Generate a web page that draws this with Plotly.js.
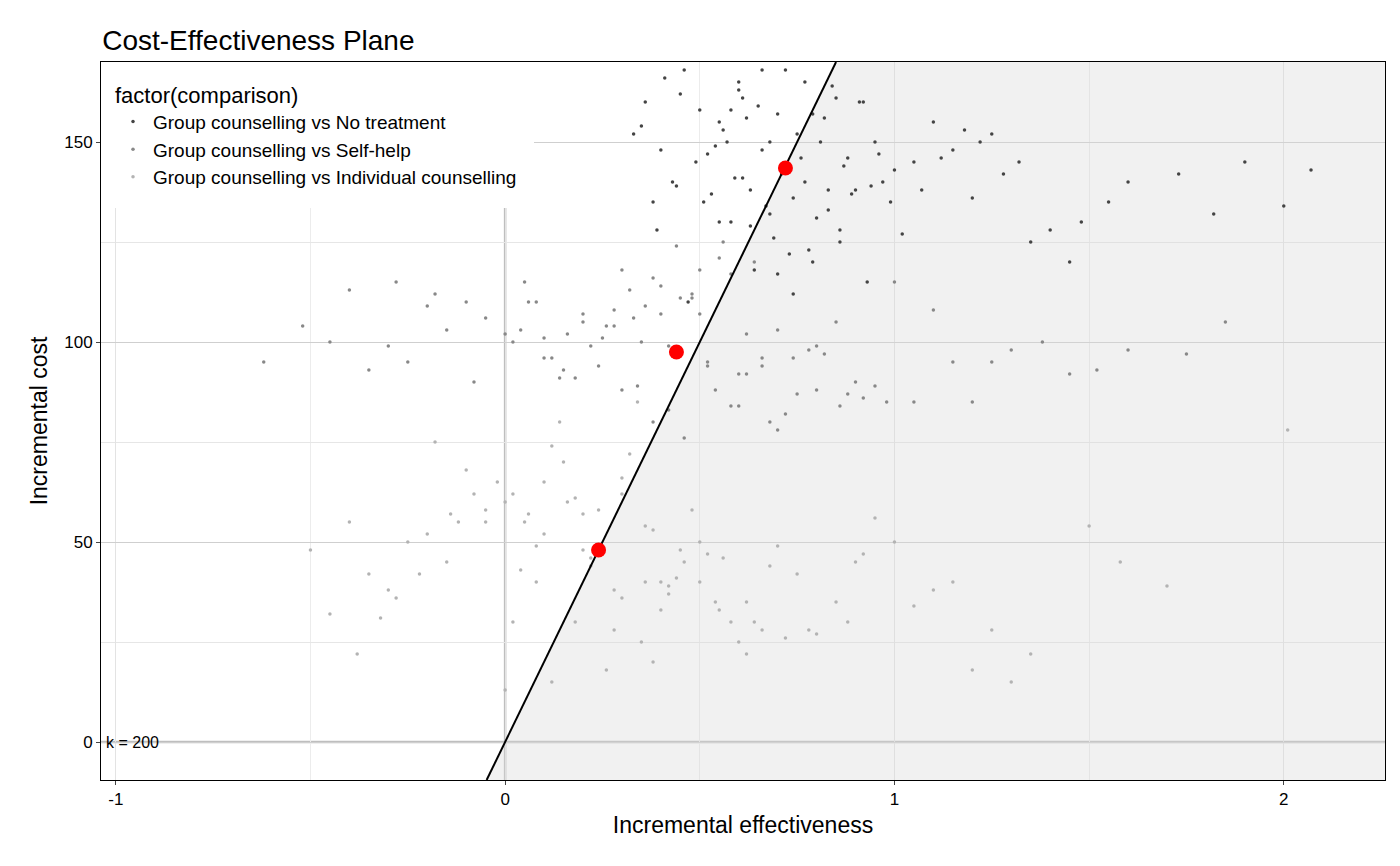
<!DOCTYPE html>
<html>
<head>
<meta charset="utf-8">
<script src="https://cdn.plot.ly/plotly-3.0.1.min.js"></script>
<style>body{margin:0;background:#fff}#plot{width:1400px;height:866px}</style>
</head>
<body>
<div id="plot"></div>
<script>
// Valores (estimados)
const k = 200;
const xRange = [-1.038, 2.26];
const yRange = [-9.5, 170];

const ntX = [0.72,0.55,0.81,0.63,0.92,0.40,0.68,0.77,1.05,0.50,0.86,0.33,0.61,0.74,1.22,0.45,0.58,0.97,0.70,0.88,0.38,1.35,0.66,0.52,0.79,1.10,0.43,0.83,0.60,0.95,1.48,0.71,0.36,0.64,0.90,1.02,0.56,0.76,0.47,1.15,0.85,0.69,0.53,1.28,0.62,0.99,0.41,0.73,0.87,1.60,0.57,0.80,0.65,1.07,0.49,0.93,0.75,1.40,0.59,0.84,0.67,1.90,0.44,0.78,1.18,0.54,0.89,0.72,1.73,0.61,0.96,0.39,0.82,2.07,0.70,1.25,0.51,0.91,0.63,1.55,0.77,0.46,1.00,0.68,1.82,0.58,0.86,1.32,0.74,0.35,0.94,0.66,1.45,0.79,0.55,1.12,0.83,2.00,0.60,1.20];
const ntY = [143,155,150,138,160,148,132,165,145,158,128,152,141,136,150,162,130,140,157,146,135,125,168,147,120,155,140,133,163,150,130,142,160,118,138,127,153,146,110,148,161,126,137,142,156,135,166,122,144,140,150,131,159,138,145,115,152,128,141,164,134,145,139,123,153,149,137,168,142,161,147,128,156,143,117,152,135,160,129,135,140,168,143,150,132,158,125,145,112,154,139,148,120,157,130,146,138,134,165,136];

const shX = [0.44,0.20,0.62,-0.10,0.35,0.80,0.05,0.52,0.28,1.05,-0.30,0.48,0.15,0.70,0.38,-0.05,0.90,0.25,0.58,0.10,1.30,0.42,-0.20,0.66,0.32,0.00,0.75,0.55,-0.45,0.18,0.85,0.46,1.15,0.08,0.60,0.30,-0.62,0.50,0.22,0.95,0.40,-0.15,0.68,0.12,1.45,0.36,0.78,-0.35,0.54,0.26,1.00,0.02,0.64,0.45,-0.25,0.88,0.16,0.72,1.60,0.33,-0.08,0.56,0.82,0.24,1.20,0.48,-0.40,0.60,0.10,0.92,0.38,1.75,0.28,0.70,-0.52,0.52,0.14,1.10,0.44,0.04,0.80,0.34,1.38,0.58,-0.18,0.66,0.20,0.98,0.42,1.52,0.06,0.74,0.30,1.25,0.50,-0.28,0.86,0.62,1.85,0.40];
const shY = [97,105,92,110,100,88,115,95,108,85,99,112,93,103,80,106,90,101,117,96,98,83,109,94,113,102,87,121,100,91,105,76,95,110,84,118,95,107,99,89,114,103,80,96,92,109,98,93,88,104,115,100,120,111,95,87,102,82,98,106,90,125,97,94,85,111,113,92,101,86,116,97,104,78,104,94,91,108,124,103,99,89,100,84,112,96,107,85,99,93,110,96,88,95,118,115,84,102,105,107];

const indX = [0.24,0.05,0.40,-0.15,0.30,0.62,-0.05,0.18,0.50,-0.30,0.10,0.75,0.35,-0.20,0.00,0.55,0.15,0.90,-0.40,0.28,0.45,0.08,1.10,-0.10,0.38,0.20,0.68,-0.25,0.02,0.85,0.32,0.12,1.25,-0.35,0.48,0.22,0.60,-0.08,0.42,1.50,0.14,-0.45,0.70,0.26,0.04,0.95,0.36,-0.18,0.58,0.10,1.35,0.30,-0.28,0.80,0.46,0.00,0.16,1.05,0.52,-0.12,0.34,0.66,1.70,0.20,-0.38,0.44,0.06,0.88,0.28,1.20,-0.02,0.56,0.38,-0.22,0.72,0.12,2.01,0.40,0.24,1.00,-0.32,0.62,0.08,0.50,1.58,0.18,-0.05,0.78,0.30,1.15,0.42,-0.14,0.64,0.22,1.30,0.02,0.54,0.92,-0.50,0.36];
const indY = [48,55,40,45,62,35,58,30,50,38,65,42,25,52,60,33,70,45,55,28,48,40,38,68,20,57,44,50,30,35,72,15,28,42,58,46,25,62,37,54,80,32,49,18,43,56,40,75,30,52,22,66,36,27,45,13,60,34,47,55,85,28,39,48,22,41,57,30,38,18,65,46,53,42,26,74,78,33,58,50,31,22,49,40,45,61,55,28,36,40,39,57,30,44,15,62,35,47,48,54];

const meanX = [0.72, 0.44, 0.24];
const meanY = [143.5, 97.5, 48];

const seriesNames = ['Group counselling vs No treatment', 'Group counselling vs Self-help', 'Group counselling vs Individual counselling'];
const seriesColors = ['#444444', '#888888', '#b3b3b3'];

// Region bajo la recta de disposicion a pagar
const xLo = yRange[0] / k, xHi = yRange[1] / k;
const region = {
    x: [xLo, xHi, xRange[1], xRange[1], xLo],
    y: [yRange[0], yRange[1], yRange[1], yRange[0], yRange[0]],
    type: 'scatter', mode: 'lines', fill: 'toself',
    fillcolor: 'rgba(215,215,215,0.35)', line: { width: 0 }, hoverinfo: 'skip', showlegend: false
};

const pts = [[ntX, ntY], [shX, shY], [indX, indY]].map((d, i) => ({
    x: d[0], y: d[1], type: 'scatter', mode: 'markers', name: seriesNames[i],
    marker: { color: seriesColors[i], size: 3.5 }
}));

const wtpLine = {
    x: [xLo, xHi], y: [yRange[0], yRange[1]], type: 'scatter', mode: 'lines',
    line: { color: '#000', width: 2 }, showlegend: false, hoverinfo: 'skip'
};

const means = {
    x: meanX, y: meanY, type: 'scatter', mode: 'markers',
    marker: { color: '#ff0000', size: 15 }, showlegend: false
};

const layout = {
    width: 1400, height: 866,
    paper_bgcolor: '#fff', plot_bgcolor: '#fff',
    font: { family: 'Liberation Sans, Arial, sans-serif', color: '#000', size: 17 },
    margin: { l: 101, r: 15, t: 62, b: 86 },
    title: { text: 'Cost-Effectiveness Plane', x: 0.073, xanchor: 'left', y: 0.965, font: { size: 28 } },
    showlegend: true,
    legend: {
        x: 0, y: 1, xanchor: 'left', yanchor: 'top', bgcolor: '#fff',
        title: { text: 'factor(comparison)  ', font: { size: 22 } },
        font: { size: 19 }, itemsizing: 'trace', tracegroupgap: 20,
        borderwidth: 12, bordercolor: '#fff'
    },
    xaxis: {
        range: xRange, tickvals: [-1, 0, 1, 2], ticktext: ['-1', '0', '1', '2'],
        showgrid: true, gridcolor: '#e3e3e3', minor: { dtick: 0.5, showgrid: true, gridcolor: '#ececec' },
        zeroline: false,
        showline: true, linecolor: '#000', mirror: true, ticks: 'outside', ticklen: 4,
        tickfont: { size: 17 },
        title: { text: 'Incremental effectiveness', font: { size: 23 }, standoff: 8 }
    },
    yaxis: {
        range: yRange, tickvals: [0, 50, 100, 150],
        showgrid: true, gridcolor: '#cfcfcf', minor: { dtick: 25, showgrid: true, gridcolor: '#e6e6e6' },
        zeroline: false,
        showline: true, linecolor: '#000', mirror: true, ticks: 'outside', ticklen: 4,
        tickfont: { size: 17 },
        title: { text: 'Incremental cost', font: { size: 23 }, standoff: 10 }
    },
    shapes: [
        { type: 'line', xref: 'x', yref: 'paper', x0: 0, x1: 0, y0: 0, y1: 1, layer: 'below', line: { color: '#bebebe', width: 2.5 } },
        { type: 'line', xref: 'paper', yref: 'y', x0: 0, x1: 1, y0: 0, y1: 0, layer: 'below', line: { color: '#bebebe', width: 2.5 } }
    ],
    annotations: [{
        x: -1.03, y: 0, xref: 'x', yref: 'y', text: 'k = 200', showarrow: false,
        xanchor: 'left', yanchor: 'middle', font: { size: 16 }
    }]
};

Plotly.newPlot('plot', [region, ...pts, wtpLine, means], layout, { displayModeBar: false });
</script>
</body>
</html>
